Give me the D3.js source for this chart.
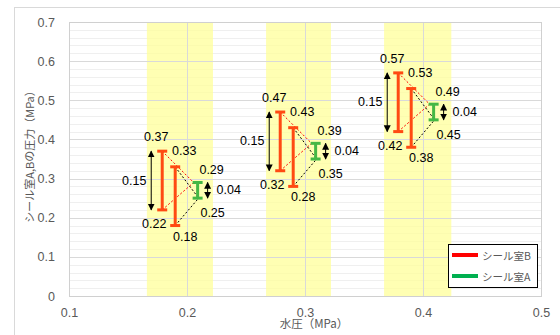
<!DOCTYPE html>
<html>
<head>
<meta charset="utf-8">
<script src="https://cdn.jsdelivr.net/npm/d3@7"></script>
<style>
body { margin: 0; background: #fff; }
text { font-family: "Liberation Sans", Arial, sans-serif; }
.jp { font-family: "Noto Sans CJK JP", sans-serif; }
</style>
</head>
<body>
<div id="chart"></div>
<script>
// water pressure groups and the pressures
var waterPressure = [0.2, 0.3, 0.4];
var bandFrom = [0.166, 0.267, 0.367];
var bandTo = [0.222, 0.322, 0.424];

// seal chamber B, first bar (upper) and second bar (lower)
var xB1 = [0.179, 0.279, 0.379];
var b1Max = [0.37, 0.47, 0.57];
var b1Min = [0.22, 0.32, 0.42];
var xB2 = [0.19, 0.29, 0.39];
var b2Max = [0.33, 0.43, 0.53];
var b2Min = [0.18, 0.28, 0.38];

// seal chamber A
var xA = [0.209, 0.309, 0.409];
var aMax = [0.29, 0.39, 0.49];
var aMin = [0.25, 0.35, 0.45];

var xTicks = [0.1, 0.2, 0.3, 0.4, 0.5];
var yTicks = [0, 0.1, 0.2, 0.3, 0.4, 0.5, 0.6, 0.7];
var yMinor = d3.range(0, 0.7001, 0.02);

var legendNames = ["シール室B", "シール室A"];
var legendColors = ["#ff0000", "#00b050"];

var red = "#ff4a12", green = "#45b845", gray = "#595959";

var svg = d3.select("#chart").append("svg")
    .attr("width", 560)
    .attr("height", 335);

// chart border
svg.append("rect")
    .attr("x", 14.5).attr("y", 7.5)
    .attr("width", 560).attr("height", 340)
    .attr("fill", "none").attr("stroke", "#d9d9d9");

var x = d3.scaleLinear().domain([0.1, 0.5]).range([69, 541]);
var y = d3.scaleLinear().domain([0, 0.7]).range([296, 22]);

// minor grid
svg.append("g").selectAll("line").data(yMinor).enter().append("line")
    .attr("x1", x(0.1)).attr("x2", x(0.5))
    .attr("y1", function (d) { return Math.round(y(d)) + 0.5; })
    .attr("y2", function (d) { return Math.round(y(d)) + 0.5; })
    .attr("stroke", "#efefef");

// yellow bands
svg.append("g").selectAll("rect").data(waterPressure).enter().append("rect")
    .attr("x", function (d, i) { return x(bandFrom[i]); })
    .attr("width", function (d, i) { return x(bandTo[i]) - x(bandFrom[i]); })
    .attr("y", y(0.7))
    .attr("height", y(0) - y(0.7))
    .attr("fill", "#ffff99")
    .attr("opacity", 0.75);

// major grid
svg.append("g").selectAll("line").data(yTicks).enter().append("line")
    .attr("x1", x(0.1)).attr("x2", x(0.5))
    .attr("y1", function (d) { return Math.round(y(d)) + 0.5; })
    .attr("y2", function (d) { return Math.round(y(d)) + 0.5; })
    .attr("stroke", "#d9d9d9");
svg.append("g").selectAll("line").data(xTicks).enter().append("line")
    .attr("x1", function (d) { return Math.round(x(d)) + 0.5; })
    .attr("x2", function (d) { return Math.round(x(d)) + 0.5; })
    .attr("y1", y(0)).attr("y2", y(0.7))
    .attr("stroke", "#d9d9d9");

// axes
var yAxis = d3.axisLeft(y).tickValues(yTicks).tickSize(0).tickPadding(14)
    .tickFormat(function (d) { return d === 0 ? "0" : d3.format(".1f")(d); });
svg.append("g").attr("transform", "translate(" + x(0.1) + ",0)").call(yAxis)
    .call(function (g) { g.select(".domain").remove(); })
    .selectAll("text").attr("fill", gray).style("font-size", "12.5px");

var xAxis = d3.axisBottom(x).tickValues(xTicks).tickSize(0).tickPadding(12)
    .tickFormat(d3.format(".1f"));
svg.append("g").attr("transform", "translate(0," + y(0) + ")").call(xAxis)
    .call(function (g) { g.select(".domain").remove(); })
    .selectAll("text").attr("fill", gray).style("font-size", "12.5px");

// dotted connector lines
var conn = svg.append("g").attr("stroke-width", 1).attr("stroke-dasharray", "2,2").attr("fill", "none");
waterPressure.forEach(function (w, i) {
    [b1Max[i], b1Min[i]].forEach(function (v) {
        conn.append("line")
            .attr("x1", x(xB1[i])).attr("y1", y(v))
            .attr("x2", x(xA[i]) - 4).attr("y2", y(aMax[i]))
            .attr("stroke", "#ff0000");
    });
    [b2Max[i], b2Min[i]].forEach(function (v) {
        conn.append("line")
            .attr("x1", x(xB2[i])).attr("y1", y(v))
            .attr("x2", x(xA[i]) + 1).attr("y2", y(aMin[i]))
            .attr("stroke", "#000");
    });
});

// range bars with caps
function drawBar(xs, maxs, mins, color) {
    var g = svg.append("g").attr("stroke", color).attr("stroke-width", 3);
    xs.forEach(function (xv, i) {
        var cx = x(xv);
        g.append("line").attr("x1", cx).attr("x2", cx).attr("y1", y(maxs[i])).attr("y2", y(mins[i]));
        g.append("line").attr("x1", cx - 5).attr("x2", cx + 5).attr("y1", y(maxs[i])).attr("y2", y(maxs[i]));
        g.append("line").attr("x1", cx - 5).attr("x2", cx + 5).attr("y1", y(mins[i])).attr("y2", y(mins[i]));
    });
}
drawBar(xB1, b1Max, b1Min, red);
drawBar(xB2, b2Max, b2Min, red);
drawBar(xA, aMax, aMin, green);

// double arrows
svg.append("defs").append("marker")
    .attr("id", "head").attr("viewBox", "0 0 10 10")
    .attr("refX", 9).attr("refY", 5)
    .attr("markerWidth", 7).attr("markerHeight", 8)
    .attr("markerUnits", "userSpaceOnUse")
    .attr("orient", "auto-start-reverse")
    .append("path").attr("d", "M0,0L10,5L0,10Z").attr("fill", "#000");

function drawArrow(px, top, bottom) {
    svg.append("line")
        .attr("x1", px).attr("x2", px)
        .attr("y1", y(top)).attr("y2", y(bottom))
        .attr("stroke", "#000").attr("stroke-width", 1)
        .attr("marker-start", "url(#head)")
        .attr("marker-end", "url(#head)");
}

var labels = svg.append("g").style("font-size", "12.5px").attr("fill", "#000");
function label(px, py, txt, anchor) {
    labels.append("text").attr("x", px).attr("y", py)
        .attr("text-anchor", anchor || "middle")
        .attr("dominant-baseline", "central")
        .text(txt);
}
var f = d3.format(".2f");

waterPressure.forEach(function (w, i) {
    drawArrow(x(xB1[i]) - 11, b1Max[i], b1Min[i]);
    drawArrow(x(xA[i]) + 10, aMax[i], aMin[i]);
    label(x(xB1[i]) - 28, y((b1Max[i] + b1Min[i]) / 2), f(b1Max[i] - b1Min[i]));
    label(x(xA[i]) + 19, y((aMax[i] + aMin[i]) / 2), f(aMax[i] - aMin[i]), "start");
    label(x(xB1[i]) - 6, y(b1Max[i]) - 14, f(b1Max[i]));
    label(x(xB1[i]) - 8, y(b1Min[i]) + 14, f(b1Min[i]));
    label(x(xB2[i]) + 9, y(b2Max[i]) - 16, f(b2Max[i]));
    label(x(xB2[i]) + 10, y(b2Min[i]) + 11, f(b2Min[i]));
    label(x(xA[i]) + 14, y(aMax[i]) - 12, f(aMax[i]));
    label(x(xA[i]) + 15, y(aMin[i]) + 15, f(aMin[i]));
});

// plot border
svg.append("rect")
    .attr("x", x(0.1) + 0.5).attr("y", y(0.7) + 0.5)
    .attr("width", x(0.5) - x(0.1)).attr("height", y(0) - y(0.7))
    .attr("fill", "none").attr("stroke", "#d0d0d0");

// axis titles
svg.append("text").attr("class", "jp")
    .attr("transform", "translate(34,154) rotate(-90)")
    .attr("text-anchor", "middle")
    .attr("fill", gray).style("font-size", "11px")
    .text("シール室A,Bの圧力（MPa）");
svg.append("text").attr("class", "jp")
    .attr("x", 314).attr("y", 328)
    .attr("text-anchor", "middle")
    .attr("fill", gray).style("font-size", "11.5px")
    .text("水圧（MPa）");

// legend
var lg = svg.append("g").attr("transform", "translate(448,244)");
lg.append("rect").attr("x", 0.5).attr("y", 0.5).attr("width", 89).attr("height", 43)
    .attr("fill", "#fff").attr("stroke", "#000");
legendNames.forEach(function (n, i) {
    lg.append("line").attr("x1", 4).attr("x2", 30)
        .attr("y1", 11 + i * 21).attr("y2", 11 + i * 21)
        .attr("stroke", legendColors[i]).attr("stroke-width", 4);
    lg.append("text").attr("class", "jp").attr("x", 34).attr("y", 11 + i * 21)
        .attr("dominant-baseline", "central")
        .attr("fill", gray).style("font-size", "10.5px")
        .text(n);
});
</script>
</body>
</html>
